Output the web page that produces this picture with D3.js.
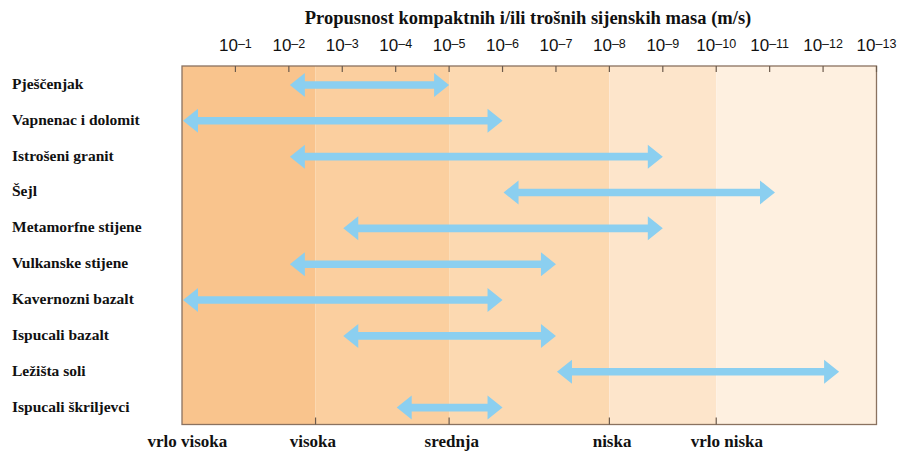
<!DOCTYPE html>
<html><head><meta charset="utf-8">
<script src="https://cdn.jsdelivr.net/npm/d3@7"></script>
<style>html,body{margin:0;padding:0;background:#fff;}</style>
</head><body><svg id="c" width="900" height="454"></svg>
<script>
const title = "Propusnost kompaktnih i/ili trošnih sijenskih masa (m/s)";
const rocks = ["Pješčenjak","Vapnenac i dolomit","Istrošeni granit","Šejl","Metamorfne stijene","Vulkanske stijene","Kavernozni bazalt","Ispucali bazalt","Ležišta soli","Ispucali škriljevci"];
// exponent k of 10^-k (m/s)
const rangeFrom = [2, 0, 2, 6, 3, 2, 0, 3, 7, 4];
const rangeTo   = [5, 6, 9, 11.1, 9, 7, 6, 7, 12.3, 6];
const tickExps = [1,2,3,4,5,6,7,8,9,10,11,12,13];
const classNames = ["vrlo visoka","visoka","srednja","niska","vrlo niska"];
const classStart = [0, 2.5, 5, 8, 10];
const classEnd   = [2.5, 5, 8, 10, 13];
const classLabelAt = [0.1, 2.45, 5.05, 8.05, 10.2];
const classColors = ["#F9C48D","#FBCF9F","#FCD9B1","#FDE5CB","#FEF0E0"];

const svg = d3.select("#c");
const L = 182, R = 876.5, T = 66, B = 424.5;
const x = d3.scaleLinear().domain([0,13]).range([L,R]);
const y = d3.scaleBand().domain(rocks).range([T,B]);
const serif = "'Liberation Serif','Times New Roman',serif";
const border = "#8a7260";

// bands
svg.append("g").selectAll("rect").data(classNames).join("rect")
  .attr("x",(d,i)=>x(classStart[i])).attr("y",T)
  .attr("width",(d,i)=>x(classEnd[i])-x(classStart[i])).attr("height",B-T)
  .attr("fill",(d,i)=>classColors[i]);

// frame
svg.append("rect").attr("x",L).attr("y",T).attr("width",R-L).attr("height",B-T)
  .attr("fill","none").attr("stroke",border).attr("stroke-width",1.3);

// top ticks
svg.append("g").selectAll("line").data(tickExps).join("line")
  .attr("x1",d=>x(d)).attr("x2",d=>x(d)).attr("y1",T).attr("y2",T+6)
  .attr("stroke","#6b5a4c").attr("stroke-width",1.2);
// bottom ticks at class boundaries
svg.append("g").selectAll("line").data(classStart.slice(1)).join("line")
  .attr("x1",d=>x(d)).attr("x2",d=>x(d)).attr("y1",B).attr("y2",B-7)
  .attr("stroke","#6b5a4c").attr("stroke-width",1.2);

// tick labels
const tl = svg.append("g").selectAll("text").data(tickExps).join("text")
  .attr("x",d=>x(d)).attr("y",51).attr("text-anchor","middle")
  .attr("font-family","'Liberation Sans Narrow','Liberation Sans',Arial,sans-serif")
  .attr("font-size",17).attr("fill","#111");
tl.append("tspan").text("10");
tl.append("tspan").attr("font-size",12.5).attr("dy",-3).text(d=>"\u2013"+d);

// title
svg.append("text").attr("x",528).attr("y",24).attr("text-anchor","middle")
  .attr("font-family",serif).attr("font-weight","bold").attr("font-size",18.5)
  .attr("fill","#111").text(title);

// row labels
svg.append("g").selectAll("text").data(rocks).join("text")
  .attr("x",12).attr("y",d=>y(d)+y.bandwidth()/2+5)
  .attr("font-family",serif).attr("font-weight","bold").attr("font-size",15.5)
  .attr("fill","#111").text(d=>d);

// class labels
svg.append("g").selectAll("text").data(classNames).join("text")
  .attr("x",(d,i)=>x(classLabelAt[i])).attr("y",447).attr("text-anchor","middle")
  .attr("font-family",serif).attr("font-weight","bold").attr("font-size",17)
  .attr("fill","#111").text(d=>d);

// arrows
const shaft = 3.8, headH = 12, headL = 15;
function arrowPath(x1,x2,cy){
  const p = d3.path();
  p.moveTo(x1,cy);
  p.lineTo(x1+headL,cy-headH);
  p.lineTo(x1+headL,cy-shaft);
  p.lineTo(x2-headL,cy-shaft);
  p.lineTo(x2-headL,cy-headH);
  p.lineTo(x2,cy);
  p.lineTo(x2-headL,cy+headH);
  p.lineTo(x2-headL,cy+shaft);
  p.lineTo(x1+headL,cy+shaft);
  p.lineTo(x1+headL,cy+headH);
  p.closePath();
  return p.toString();
}
svg.append("g").selectAll("path").data(rocks).join("path")
  .attr("d",(d,i)=>arrowPath(x(rangeFrom[i])+1,x(rangeTo[i]),y(d)+y.bandwidth()/2+1))
  .attr("fill","#8BCFF0");
</script></body></html>
